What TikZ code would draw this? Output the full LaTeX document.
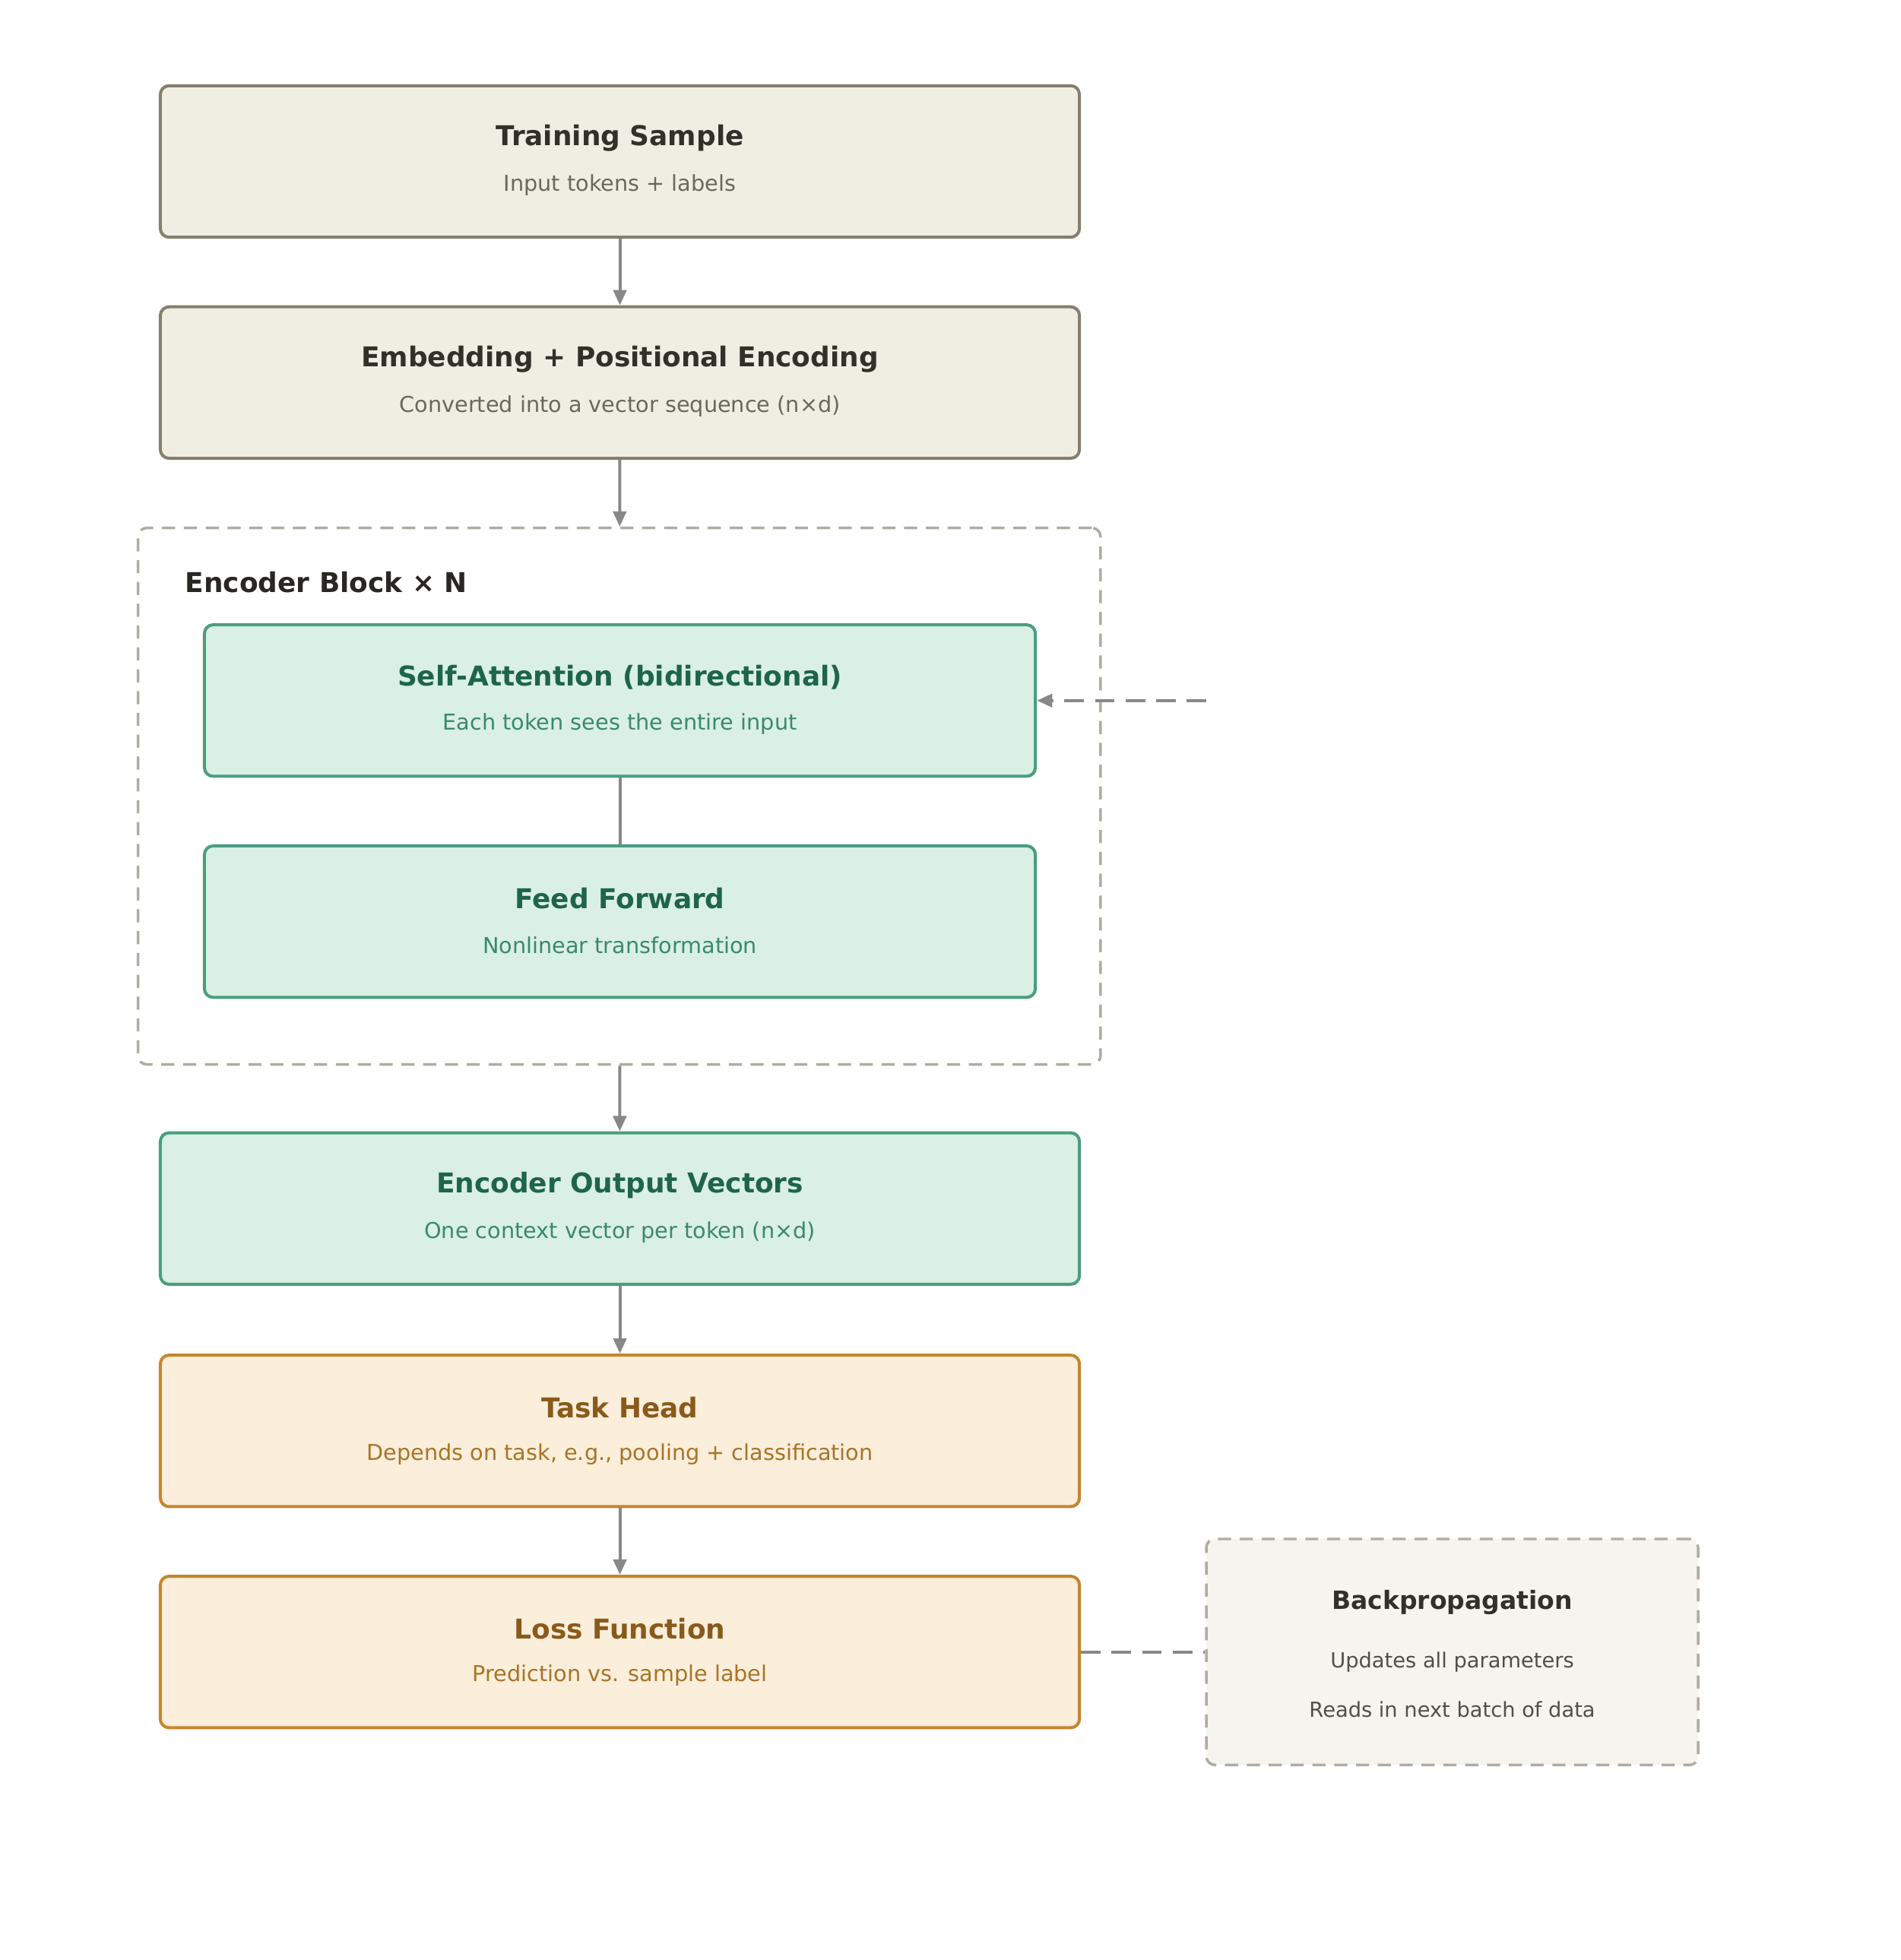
\documentclass[tikz,border=0pt]{standalone}
\usepackage{fontspec}
\setmainfont{DejaVu Sans}
\usetikzlibrary{arrows.meta,positioning}
\definecolor{beigeF}{HTML}{F0EDE2}\definecolor{beigeD}{HTML}{857F70}
\definecolor{beigeT}{HTML}{33302A}\definecolor{beigeS}{HTML}{6B675E}
\definecolor{greenF}{HTML}{DAF0E5}\definecolor{greenD}{HTML}{4A9E7E}
\definecolor{greenT}{HTML}{1E6549}\definecolor{greenS}{HTML}{3A8A6A}
\definecolor{orangeF}{HTML}{FBEEDB}\definecolor{orangeD}{HTML}{C4862E}
\definecolor{orangeT}{HTML}{8A5A1A}\definecolor{orangeS}{HTML}{A87428}
\definecolor{dashD}{HTML}{B0ACA0}\definecolor{noteF}{HTML}{F5F4EF}
\definecolor{lineC}{HTML}{888888}
\begin{document}
\begin{tikzpicture}[x=0.02cm,y=-0.02cm]
    % Styles
    \tikzset{
      box/.style={draw, line width=1.4pt, rounded corners=4pt, minimum width=14.8cm, minimum height=2.44cm, inner sep=0pt},
      inner/.style={box, minimum width=13.38cm},
      plain/.style={box, fill=beigeF, draw=beigeD},
      enc/.style={box, fill=greenF, draw=greenD},
      head/.style={box, fill=orangeF, draw=orangeD},
      title/.style={font=\bfseries\fontsize{12.5}{15}\selectfont},
      sub/.style={font=\fontsize{10}{12}\selectfont},
      arrow/.style={lineC, line width=1.4pt, -{Triangle[length=7pt,width=6pt]}},
      dashed line/.style={lineC, line width=1.4pt, dash pattern=on 9pt off 5pt}
    }
    \useasboundingbox (0,0) rectangle (1530,1578);

    % Container
    \node[draw=dashD, line width=1.2pt, dash pattern=on 6pt off 4pt, rounded corners=4pt,
          minimum width=15.5cm, minimum height=8.64cm] (block) at (498.5,641) {};
    \node[title, text=beigeT!80!black, anchor=west] (blocklabel) at (143,469) {Encoder Block × N};

    % Nodes
    \node[plain] (sample) at (499,130) {};
    \node[title, text=beigeT] at ([yshift=0.38cm]sample.center) {Training Sample};
    \node[sub, text=beigeS] at ([yshift=-0.38cm]sample.center) {Input tokens + labels};

    \node[plain] (embed) at (499,308) {};
    \node[title, text=beigeT] at ([yshift=0.38cm]embed.center) {Embedding + Positional Encoding};
    \node[sub, text=beigeS] at ([yshift=-0.38cm]embed.center) {Converted into a vector sequence (n×d)};

    \node[enc, inner] (attn) at (499,564) {};
    \node[title, text=greenT] at ([yshift=0.38cm]attn.center) {Self-Attention (bidirectional)};
    \node[sub, text=greenS] at ([yshift=-0.38cm]attn.center) {Each token sees the entire input};

    \node[enc, inner] (ffn) at (499,742) {};
    \node[title, text=greenT] at ([yshift=0.38cm]ffn.center) {Feed Forward};
    \node[sub, text=greenS] at ([yshift=-0.38cm]ffn.center) {Nonlinear transformation};

    \node[enc] (output) at (499,973) {};
    \node[title, text=greenT] at ([yshift=0.38cm]output.center) {Encoder Output Vectors};
    \node[sub, text=greenS] at ([yshift=-0.38cm]output.center) {One context vector per token (n×d)};

    \node[head] (task) at (499,1152) {};
    \node[title, text=orangeT] at ([yshift=0.38cm]task.center) {Task Head};
    \node[sub, text=orangeS] at ([yshift=-0.38cm]task.center) {Depends on task, e.g., pooling + classification};

    \node[head] (loss) at (499,1330) {};
    \node[title, text=orangeT] at ([yshift=0.38cm]loss.center) {Loss Function};
    \node[sub, text=orangeS] at ([yshift=-0.38cm]loss.center) {Prediction vs. sample label};

    \node[draw=dashD, fill=noteF, line width=1.2pt, dash pattern=on 6pt off 4pt, rounded corners=4pt,
          minimum width=7.92cm, minimum height=3.64cm] (backprop) at (1169,1330) {};
    \node[font=\bfseries\fontsize{11.5}{14}\selectfont, text=beigeT] at (1169,1290) {Backpropagation};
    \node[sub, font=\fontsize{9.5}{12}\selectfont, text=beigeT!85] at (1169,1338) {Updates all parameters};
    \node[sub, font=\fontsize{9.5}{12}\selectfont, text=beigeT!85] at (1169,1376) {Reads in next batch of data};
    \coordinate (feedback) at (971,564);

    % Connections
    \draw[arrow] (sample) -- (embed);
    \draw[arrow] (embed) -- (block);
    \draw[lineC, line width=1.4pt] (attn) -- (ffn);
    \draw[arrow] (block) -- (output);
    \draw[arrow] (output) -- (task);
    \draw[arrow] (task) -- (loss);
    \draw[dashed line] (loss) -- (backprop);
    \draw[dashed line, -{Triangle[length=7pt,width=6pt]}] (feedback) -- (attn);
\end{tikzpicture}
\end{document}
